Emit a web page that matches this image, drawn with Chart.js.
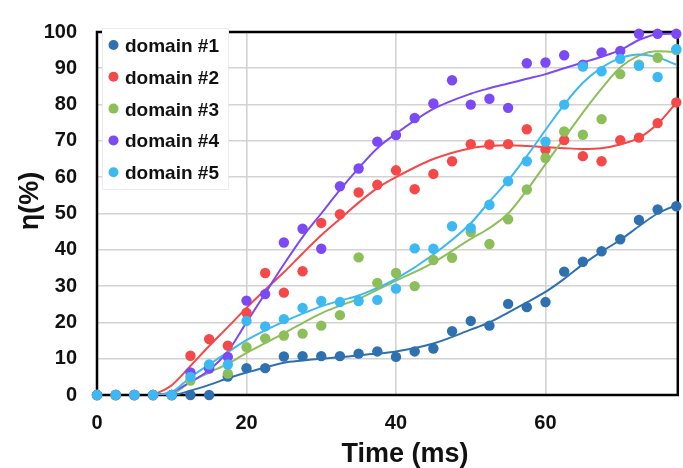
<!DOCTYPE html>
<html>
<head>
<meta charset="utf-8">
<script src="https://cdn.jsdelivr.net/npm/chart.js@4"></script>
<style>
  html, body { margin: 0; padding: 0; background: #fff; }
  #wrap { width: 683px; height: 468px; }
</style>
</head>
<body>
<div id="wrap"><canvas id="etaChart" width="683" height="468"></canvas></div>
<script>
// measured points (time in ms, eta in %)
const timeMs = [0, 2.5, 5, 7.5, 10, 12.5, 15, 17.5, 20, 22.5, 25, 27.5, 30, 32.5, 35, 37.5,
                40, 42.5, 45, 47.5, 50, 52.5, 55, 57.5, 60, 62.5, 65, 67.5, 70, 72.5, 75, 77.5];

const domain1 = [0, 0, 0, 0, 0, 0, 0, 5.1, 7.4, 7.4, 10.6, 10.7, 10.7, 10.7, 11.4, 12.0,
                 10.5, 12.0, 12.8, 17.6, 20.4, 19.1, 25.1, 24.2, 25.6, 34.0, 36.7, 39.6, 42.9, 48.2, 51.1, 52.0];
const domain2 = [0, 0, 0, 0, 0, 10.8, 15.4, 13.6, 22.7, 33.6, 28.2, 34.1, 47.4, 49.8, 55.8, 57.9,
                 61.9, 56.7, 60.9, 64.4, 69.1, 69.0, 69.1, 73.2, 67.6, 70.2, 65.8, 64.4, 70.2, 70.9, 74.9, 80.6];
const domain3 = [0, 0, 0, 0, 0, 4.0, 7.5, 5.9, 13.2, 15.6, 16.4, 16.9, 19.1, 22.0, 37.9, 30.9,
                 33.6, 30.0, 37.2, 37.8, 44.9, 41.6, 48.4, 56.6, 65.3, 72.6, 71.7, 76.0, 88.4, 91.0, 92.9, 95.0];
const domain4 = [0, 0, 0, 0, 0, 6.2, 7.3, 10.5, 26.0, 27.8, 42.0, 45.8, 40.3, 57.5, 62.4, 69.8,
                 71.6, 76.3, 80.3, 86.7, 80.0, 81.6, 79.1, 91.4, 91.6, 93.6, 91.0, 94.4, 94.8, 99.5, 99.5, 99.5];
const domain5 = [0, 0, 0, 0, 0, 5.0, 8.4, 8.4, 20.4, 18.9, 20.9, 24.0, 25.9, 25.6, 25.9, 26.2,
                 29.3, 40.4, 40.3, 46.5, 46.0, 52.4, 58.9, 64.4, 69.8, 80.0, 90.5, 89.2, 92.6, 90.7, 87.6, 95.3];

// fitted trend curves
const fitX = [7.5, 10, 12.5, 15, 17.5, 20, 22.5, 25, 27.5, 30, 32.5, 35, 37.5, 40, 45, 50,
              52.5, 55, 57.5, 60, 62.5, 65, 67.5, 70, 72.5, 75, 77.5];
const fit1 = [0, 0, 1.2, 2.8, 4.6, 6.2, 7.6, 8.9, 9.5, 10.0, 10.4, 10.9, 11.4, 12.0, 14.2, 18.0,
              20.0, 22.7, 25.5, 28.4, 32.0, 36.0, 39.5, 42.7, 46.5, 50.0, 52.3];
const fit2 = [0, 2.7, 8.0, 13.5, 18.7, 24.0, 29.0, 33.8, 39.0, 44.0, 48.5, 53.0, 57.0, 60.0, 65.0, 68.0,
              68.6, 68.8, 68.6, 68.3, 68.0, 67.8, 68.0, 69.0, 70.8, 74.7, 80.5];
const fit3 = [0, 0.3, 3.6, 6.2, 8.6, 11.6, 14.3, 17.0, 19.8, 22.5, 24.6, 26.5, 29.0, 31.5, 36.5, 43.0,
              46.0, 50.0, 56.4, 63.6, 70.7, 77.8, 84.4, 90.2, 93.5, 94.7, 94.5];
const fit4 = [0, 0.8, 3.6, 6.8, 12.0, 20.0, 28.0, 36.0, 43.5, 50.0, 56.5, 62.5, 68.0, 72.0, 78.8, 83.0,
              84.5, 85.8, 87.1, 88.4, 90.0, 91.6, 93.2, 95.0, 97.8, 99.4, 99.5];
const fit5 = [0, 0.8, 4.9, 8.4, 11.8, 15.1, 17.8, 20.2, 22.4, 24.4, 26.0, 27.4, 29.5, 32.0, 38.7, 47.3,
              53.3, 59.1, 65.8, 73.0, 80.0, 86.0, 90.2, 92.8, 93.8, 93.0, 91.0];

const seriesNames = ['domain #1', 'domain #2', 'domain #3', 'domain #4', 'domain #5'];
const seriesColors = ['#2e70b0', '#f54848', '#8cbf5a', '#7b4af5', '#3cb9f2'];
const yTicks = [0, 10, 20, 30, 40, 50, 60, 70, 80, 90, 100];
const xTicks = [0, 20, 40, 60];

const pointSets = [domain1, domain2, domain3, domain4, domain5];
const fitSets = [fit1, fit2, fit3, fit4, fit5];

const datasets = [];
fitSets.forEach((f, i) => {
    datasets.push({
        type: 'line',
        label: seriesNames[i] + ' fit',
        isFit: true,
        data: fitX.map((x, k) => ({ x: x, y: f[k] })),
        borderColor: seriesColors[i],
        borderWidth: 2,
        pointRadius: 0,
        fill: false,
        cubicInterpolationMode: 'monotone',
        order: 20 - i
    });
});
pointSets.forEach((p, i) => {
    datasets.push({
        type: 'scatter',
        label: seriesNames[i],
        data: timeMs.map((x, k) => ({ x: x, y: p[k] })),
        backgroundColor: seriesColors[i],
        borderColor: seriesColors[i],
        pointRadius: 5.2,
        pointHoverRadius: 5.2,
        borderWidth: 0,
        clip: false,
        order: 5 - i
    });
});

const FONT = '"Liberation Sans", Arial, sans-serif';

// frame, legend inside the plot and axis titles
const extras = {
    id: 'extras',
    beforeDatasetsDraw(chart) {
        const { ctx, chartArea: a } = chart;
        ctx.save();
        ctx.strokeStyle = '#000';
        ctx.lineWidth = 2.5;
        ctx.strokeRect(a.left, a.top, a.right - a.left, a.bottom - a.top);
        ctx.restore();
    },
    afterDatasetsDraw(chart) {
        const ctx = chart.ctx;
        ctx.save();
        ctx.fillStyle = '#fff';
        ctx.fillRect(102, 28, 126, 161);
        ctx.strokeStyle = '#ececec';
        ctx.lineWidth = 1;
        ctx.strokeRect(102.5, 28.5, 126, 161);
        const items = chart.data.datasets.filter(d => !d.isFit);
        items.forEach((d, i) => {
            const cy = 45 + i * 31.8;
            ctx.fillStyle = d.backgroundColor;
            ctx.beginPath();
            ctx.arc(113.5, cy, 5, 0, Math.PI * 2);
            ctx.fill();
            ctx.fillStyle = '#111';
            ctx.font = 'bold 19px ' + FONT;
            ctx.textBaseline = 'alphabetic';
            ctx.textAlign = 'left';
            ctx.fillText(d.label, 125, cy + 7);
        });
        ctx.restore();
    },
    afterDraw(chart) {
        const ctx = chart.ctx;
        ctx.save();
        ctx.fillStyle = '#111';
        ctx.textAlign = 'center';
        ctx.textBaseline = 'alphabetic';
        ctx.font = 'bold 27px ' + FONT;
        ctx.fillText('Time (ms)', 405, 462);
        ctx.translate(38, 201);
        ctx.rotate(-Math.PI / 2);
        ctx.fillText('η(%)', 0, 0);
        ctx.restore();
    }
};

new Chart(document.getElementById('etaChart'), {
    data: { datasets: datasets },
    plugins: [extras],
    options: {
        responsive: false,
        animation: false,
        events: [],
        layout: { padding: { top: 20, right: 3.5, left: 0, bottom: 0 } },
        plugins: { legend: { display: false }, tooltip: { enabled: false } },
        scales: {
            x: {
                type: 'linear',
                min: 0,
                max: 77.7,
                afterFit: s => { s.height = 73; },
                afterBuildTicks: s => { s.ticks = xTicks.map(v => ({ value: v })); },
                grid: { color: '#d2d2d2', lineWidth: 1.6, drawTicks: false },
                border: { display: false },
                ticks: {
                    padding: 16,
                    color: '#111',
                    font: { family: FONT, size: 20, weight: 'bold' }
                }
            },
            y: {
                min: 0,
                max: 100,
                afterFit: s => { s.width = 97; },
                afterBuildTicks: s => { s.ticks = yTicks.map(v => ({ value: v })); },
                grid: { color: '#d2d2d2', lineWidth: 1.6, drawTicks: false },
                border: { display: false },
                ticks: {
                    padding: 20,
                    color: '#111',
                    font: { family: FONT, size: 20, weight: 'bold' }
                }
            }
        }
    }
});
</script>
</body>
</html>
